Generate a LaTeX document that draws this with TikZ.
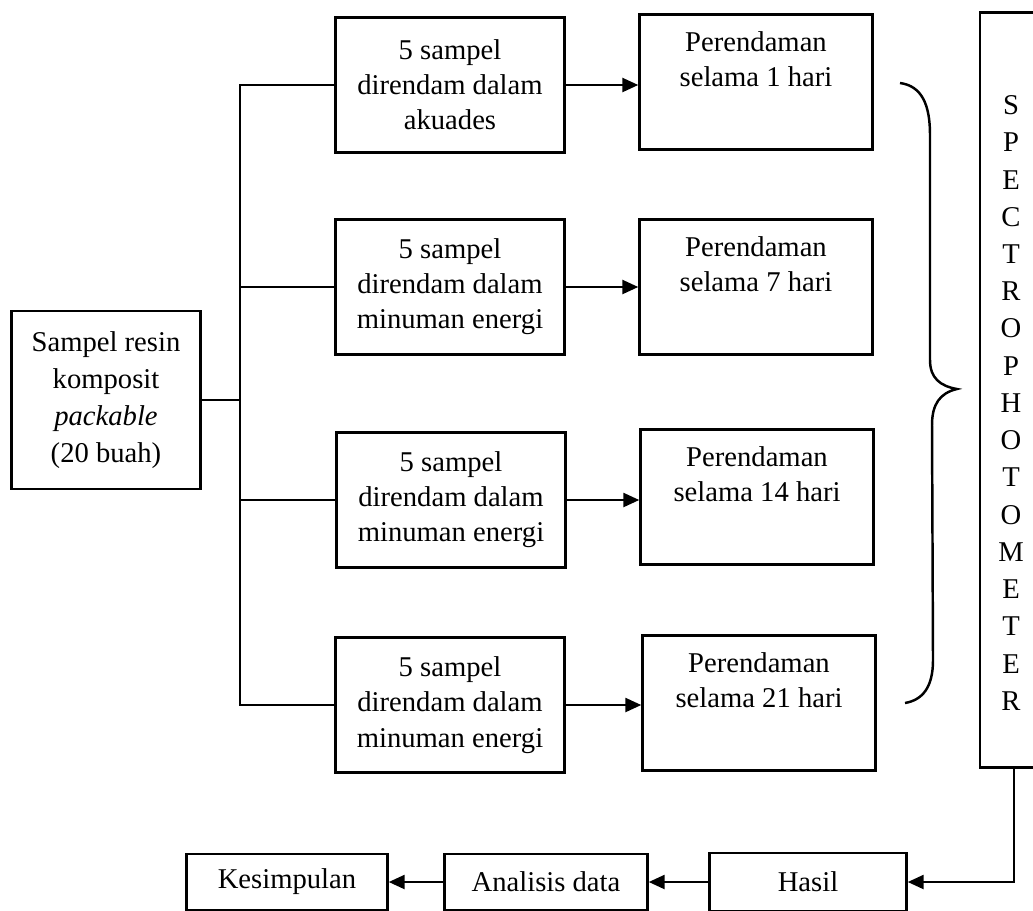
\documentclass[tikz,border=0pt]{standalone}
\usepackage{fontspec}
\setmainfont{Liberation Serif}
\usetikzlibrary{arrows.meta}

\begin{document}
\begin{tikzpicture}[x = 0.02cm, y = -0.02cm, line width = 1.4pt,
    box/.style = {draw, align = center, inner sep = 0pt,
      font = \fontsize{16.3}{20}\selectfont},
    groupbox/.style = {box, minimum width = 4.58cm, minimum height = 2.7cm},
    soakbox/.style = {box, minimum width = 4.66cm, minimum height = 2.7cm},
    >={Triangle[length = 0.32cm, width = 0.28cm]}]
  \useasboundingbox (0,0) rectangle (1033,910);

  % samples
  \node [box, minimum width = 3.78cm, minimum height = 3.56cm,
    font = \fontsize{16.3}{21}\selectfont] (src) at (106,400)
    {Sampel resin\\komposit\\\textit{packable}\\(20 buah)};
  \node [groupbox] (s1) at (450,85)  {5 sampel\\direndam dalam\\akuades};
  \node [groupbox] (s2) at (450,287) {5 sampel\\direndam dalam\\minuman energi};
  \node [groupbox] (s3) at (451,500) {5 sampel\\direndam dalam\\minuman energi};
  \node [groupbox] (s4) at (450,705) {5 sampel\\direndam dalam\\minuman energi};

  % soaking time
  \node [soakbox] (p1) at (756,82)  {Perendaman\\selama 1 hari\\\strut};
  \node [soakbox] (p2) at (756,287) {Perendaman\\selama 7 hari\\\strut};
  \node [soakbox] (p3) at (757,497) {Perendaman\\selama 14 hari\\\strut};
  \node [soakbox] (p4) at (759,703) {Perendaman\\selama 21 hari\\\strut};

  \node [draw, minimum width = 1.36cm, minimum height = 15.1cm, inner sep = 0pt,
    label = {[align = center, font = \fontsize{16.3}{21.2}\selectfont,
      xshift = -0.06cm, yshift = -0.26cm]center:{S\\P\\E\\C\\T\\R\\O\\P\\H\\O\\T\\O\\M\\E\\T\\E\\R}}]
    (spectro) at (1014,390) {};

  \node [box, minimum width = 4.02cm, minimum height = 1.12cm] (kes) at (287,882) {Kesimpulan};
  \node [box, minimum width = 4.06cm, minimum height = 1.12cm] (ana) at (546,882) {Analisis data};
  \node [box, minimum width = 3.94cm, minimum height = 1.16cm] (hasil) at (808,882) {Hasil};

  % branches
  \coordinate (trunk) at (240,0);
  \draw (s1.west) -- (s1.west -| trunk) -- (s4.west -| trunk) -- (s4.west);
  \draw (s2.west) -- (s2.west -| trunk);
  \draw (s3.west) -- (s3.west -| trunk);
  \draw (src.east) -- (src.east -| trunk);
  \foreach \i in {1,...,4}
    \draw [->] (s\i.east) -- (s\i.east -| p\i.west);

  % brace
  \draw (900,83) .. controls (922,86) and (930,105) .. (930,135) -- (930,360)
    .. controls (930,378) and (940,386) .. (957,389)
    .. controls (940,393) and (932,404) .. (932,425) -- (933,660)
    .. controls (933,688) and (922,700) .. (905,703);

  \draw [->] (spectro.south) |- (hasil.east);
  \draw [->] (hasil.west) -- (ana.east);
  \draw [->] (ana.west) -- (kes.east);
\end{tikzpicture}
\end{document}
